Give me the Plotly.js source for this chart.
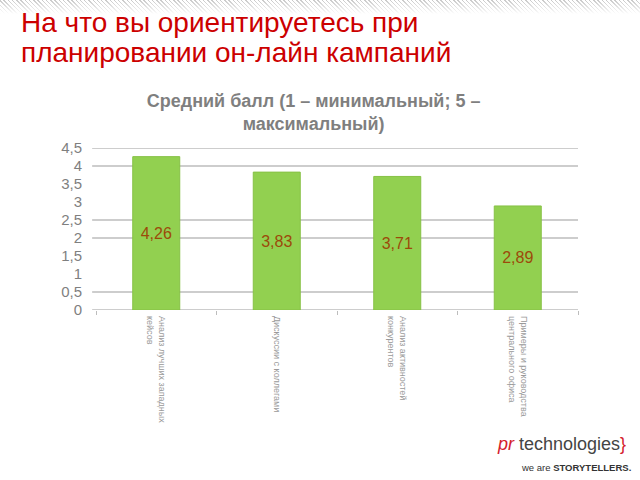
<!DOCTYPE html>
<html>
<head>
<meta charset="utf-8">
<script src="https://cdn.plot.ly/plotly-3.0.1.min.js"></script>
<style>
  body { margin: 0; background: #fff; }
  #wrap { position: relative; width: 640px; height: 480px; }
  #band { position: absolute; left: 0; top: 0; width: 640px; height: 14px;
          background: repeating-linear-gradient(45deg, #c8c8c8 0 1px, #ffffff 1px 3px);
          -webkit-mask-image: linear-gradient(to bottom, #000, rgba(0,0,0,0));
          mask-image: linear-gradient(to bottom, #000, rgba(0,0,0,0)); z-index: 2; }
  #chart { position: absolute; left: 0; top: 0; width: 640px; height: 480px; }
</style>
</head>
<body>
<div id="wrap">
  <div id="chart"></div>
  <div id="band"></div>
</div>
<script>
// categories and scores
const categories = [
    'Анализ лучших западных<br>кейсов',
    'Дискуссии с коллегами',
    'Анализ активностей<br>конкурентов',
    'Примеры и руководства<br>центрального офиса'
];
const scores = [4.26, 3.83, 3.71, 2.89];
const gridVals = [0, 0.5, 2, 2.5, 4, 4.5];

function drawChart() {
    const data = [{
        x: categories,
        y: scores,
        type: 'bar',
        width: 0.39,
        marker: {color: '#92D050', line: {width: 1, color: '#86c145'}},
        texttemplate: '%{y:.2f}',
        textposition: 'inside',
        insidetextanchor: 'middle',
        textangle: 0,
        textfont: {family: 'Liberation Sans, Arial, sans-serif', size: 16, color: '#9C4A0A'},
        hoverinfo: 'none'
    }];

    // only some grid lines survive on the slide
    const shapes = gridVals.map(v => ({
        type: 'line', xref: 'paper', yref: 'y',
        x0: -0.008, x1: 1, y0: v, y1: v,
        line: {color: '#bdbdbd', width: 1.5},
        layer: 'below'
    }));

    const layout = {
        width: 640, height: 480,
        margin: {l: 96, r: 62, t: 148, b: 170},
        paper_bgcolor: '#ffffff',
        plot_bgcolor: '#ffffff',
        separators: ', ',
        showlegend: false,
        font: {family: 'Liberation Sans, Arial, sans-serif'},
        title: {
            text: '<b>Средний балл (1 – минимальный; 5 –<br>максимальный)</b>',
            font: {size: 18, color: '#7f7f7f'},
            xref: 'container', yref: 'container',
            x: 0.49, y: 1 - 107 / 480, xanchor: 'center', yanchor: 'middle'
        },
        xaxis: {
            type: 'category',
            tickangle: 90,
            tickfont: {size: 9, color: '#9a9a9a'},
            showgrid: false,
            showline: false,
            zeroline: false,
            ticks: 'outside',
            tickson: 'boundaries',
            ticklen: 4,
            tickcolor: '#bdbdbd',
            ticklabelstandoff: 5
        },
        yaxis: {
            range: [0, 4.5],
            dtick: 0.5,
            tick0: 0,
            showgrid: false,
            zeroline: false,
            showline: false,
            ticks: 'outside',
            ticklen: 10,
            tickcolor: 'rgba(0,0,0,0)',
            tickfont: {size: 15, color: '#7f7f7f'}
        },
        shapes: shapes,
        annotations: [
            {
                text: 'На что вы ориентируетесь при',
                xref: 'paper', yref: 'paper',
                x: (19 - 96) / 482, y: 1 + (148 - 22) / 162,
                xanchor: 'left', yanchor: 'middle', align: 'left',
                showarrow: false,
                font: {size: 28, color: '#CC0000'}
            },
            {
                text: 'планировании он-лайн кампаний',
                xref: 'paper', yref: 'paper',
                x: (19 - 96) / 482, y: 1 + (148 - 52) / 162,
                xanchor: 'left', yanchor: 'middle', align: 'left',
                showarrow: false,
                font: {size: 28, color: '#CC0000'}
            },
            {
                text: '<i><span style="color:#d4202c">pr</span></i> technologies<span style="color:#d4202c">}</span>',
                xref: 'paper', yref: 'paper',
                x: (628 - 96) / 482, y: -(444 - 310) / 162,
                xanchor: 'right', yanchor: 'middle',
                showarrow: false,
                font: {size: 18, color: '#444444'}
            },
            {
                text: 'we are <b>STORYTELLERS.</b>',
                xref: 'paper', yref: 'paper',
                x: (633 - 96) / 482, y: -(467 - 310) / 162,
                xanchor: 'right', yanchor: 'middle',
                showarrow: false,
                font: {size: 9.5, color: '#333333'}
            }
        ]
    };

    Plotly.newPlot('chart', data, layout, {displayModeBar: false, staticPlot: true});
}

drawChart();
</script>
</body>
</html>
